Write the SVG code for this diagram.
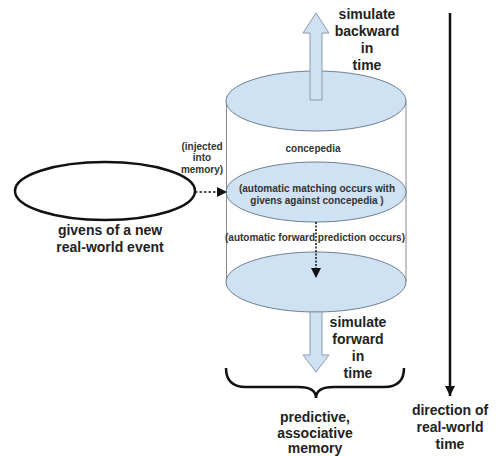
<svg xmlns="http://www.w3.org/2000/svg" width="499" height="456" viewBox="0 0 499 456">
<style>
.big{font-family:"Liberation Sans",Arial,sans-serif;font-weight:bold;font-size:14px;fill:#222;text-anchor:middle}
.sm{font-family:"Liberation Sans",Arial,sans-serif;font-weight:bold;font-size:10px;fill:#333;text-anchor:middle}
.disk{fill:#cfe2f3;stroke:#6f7f8f;stroke-width:1}
.blk{fill:#cfe2f3;stroke:#8a9aaa;stroke-width:1}
</style>
<defs>
<marker id="tri" viewBox="0 0 10 10" refX="10" refY="5" markerWidth="14" markerHeight="10" markerUnits="userSpaceOnUse" orient="auto">
<path d="M0,0 L10,5 L0,10 Z" fill="#111"/>
</marker>
<marker id="tri2" viewBox="0 0 10 10" refX="10" refY="5" markerWidth="16" markerHeight="10" markerUnits="userSpaceOnUse" orient="auto">
<path d="M0,0 L10,5 L0,10 Z" fill="#111"/>
</marker>
</defs>
<rect width="499" height="456" fill="#fff"/>
<g id="memory">
<line x1="226.5" y1="101" x2="226.5" y2="282" stroke="#8a8a8a" stroke-width="1"/>
<line x1="406" y1="101" x2="406" y2="282" stroke="#8a8a8a" stroke-width="1"/>
<ellipse id="bottom-disk" class="disk" cx="316" cy="282" rx="90" ry="30"/>
<ellipse id="top-disk" class="disk" cx="316" cy="101" rx="90" ry="30"/>
<text class="sm" x="313" y="151.5">concepedia</text>
</g>
<g id="match">
<ellipse class="disk" cx="316" cy="192" rx="90" ry="30"/>
<text class="sm" x="317" y="191.5">(automatic matching occurs with</text>
<text class="sm" x="317" y="203.5">givens against concepedia )</text>
</g>
<g id="givens">
<ellipse cx="105" cy="191" rx="90" ry="29" fill="#fff" stroke="#111" stroke-width="2.5"/>
<text class="big" x="110" y="235">givens of a new</text>
<text class="big" x="110" y="252">real-world event</text>
</g>
<g id="backward">
<path class="blk" d="M310,100 L310,33 L303,33 L316,13 L329,33 L322,33 L322,100 Z"/>
<text class="big" x="367" y="19">simulate</text>
<text class="big" x="367" y="36">backward</text>
<text class="big" x="367" y="53">in</text>
<text class="big" x="367" y="70">time</text>
</g>
<g id="forward">
<path class="blk" d="M310,312 L310,355 L303,355 L316,372 L329,355 L322,355 L322,312 Z"/>
<text class="big" x="358" y="327">simulate</text>
<text class="big" x="358" y="344">forward</text>
<text class="big" x="358" y="361">in</text>
<text class="big" x="358" y="378">time</text>
</g>
<g id="predictive">
<path d="M226,368 Q226,387 246,387 L298,387 Q316,387 316,398 Q316,387 334,387 L384,387 Q404,387 404,368" fill="none" stroke="#111" stroke-width="2.5"/>
<text class="big" x="315" y="422">predictive,</text>
<text class="big" x="315" y="438">associative</text>
<text class="big" x="315" y="453">memory</text>
</g>
<g id="time">
<text class="big" x="450" y="415">direction of</text>
<text class="big" x="450" y="432">real-world</text>
<text class="big" x="450" y="449">time</text>
</g>
<g id="connectors">
<line x1="195" y1="192" x2="227" y2="192" stroke="#111" stroke-width="1.5" stroke-dasharray="2.5,2" marker-end="url(#tri)"/>
<text class="sm" x="202" y="149.5">(injected</text>
<text class="sm" x="202" y="161">into</text>
<text class="sm" x="202" y="172.5">memory)</text>
<line x1="316" y1="222" x2="316" y2="278" stroke="#111" stroke-width="1.5" stroke-dasharray="2,1.5" marker-end="url(#tri)"/>
<text class="sm" x="315" y="240.5">(automatic forward prediction occurs)</text>
<line x1="450" y1="13" x2="450" y2="396" stroke="#111" stroke-width="2.5" marker-end="url(#tri2)"/>
</g>
</svg>
